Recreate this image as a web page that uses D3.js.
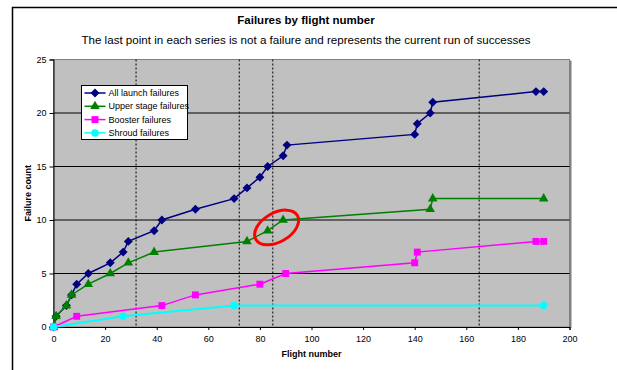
<!DOCTYPE html>
<html>
<head>
<meta charset="utf-8">
<script src="https://cdn.jsdelivr.net/npm/d3@7"></script>
<style>
  body { margin: 0; background: #fff; }
  svg { display: block; font-family: "Liberation Sans", Arial, sans-serif; }
</style>
</head>
<body>
<div id="chart"></div>
<script>
// Series data (flight number, cumulative failures)
const allX = [0, 1, 5, 7, 9, 13.5, 22, 27, 29, 39, 42, 55, 70, 75, 80, 83, 89, 90.5, 140, 141, 146, 147, 187, 190];
const allY = [0, 1, 2, 3, 4, 5, 6, 7, 8, 9, 10, 11, 12, 13, 14, 15, 16, 17, 18, 19, 20, 21, 22, 22];
const upperX = [0, 1, 5, 7, 13.5, 22, 29, 39, 75, 83, 89, 146, 147, 190];
const upperY = [0, 1, 2, 3, 4, 5, 6, 7, 8, 9, 10, 11, 12, 12];
const boosterX = [0, 9, 42, 55, 80, 90, 140, 141, 187, 190];
const boosterY = [0, 1, 2, 3, 4, 5, 6, 7, 8, 8];
const shroudX = [0, 27, 70, 190];
const shroudY = [0, 1, 2, 2];

const seriesNames = ['All launch failures', 'Upper stage failures', 'Booster failures', 'Shroud failures'];
const markerLines = [32, 72, 85, 165];
const xTicks = [0, 20, 40, 60, 80, 100, 120, 140, 160, 180, 200];
const yTicks = [0, 5, 10, 15, 20, 25];
const highlight = { x: 86.5, y: 9.3 };

const W = 617, H = 370;
const margin = { top: 59.5, right: 47.5, bottom: 43, left: 53.5 };
const width = W - margin.left - margin.right;
const height = H - margin.top - margin.bottom;

const svg = d3.select('#chart').append('svg')
    .attr('width', W)
    .attr('height', H);

// outer chart frame (cropped at right and bottom)
svg.append('path')
    .attr('d', `M12.5,${H} V7.5 H${W}`)
    .attr('fill', 'none')
    .attr('stroke', '#000')
    .attr('stroke-width', 1.5);

const xScale = d3.scaleLinear().domain([0, 200]).range([0, width]);
const yScale = d3.scaleLinear().domain([0, 25]).range([height, 0]);

const g = svg.append('g')
    .attr('transform', `translate(${margin.left}, ${margin.top})`);

// plot area
g.append('rect')
    .attr('x', 1).attr('y', 1)
    .attr('width', width + 1).attr('height', height)
    .attr('fill', '#808080');
g.append('rect')
    .attr('width', width).attr('height', height)
    .attr('fill', '#c0c0c0')
    .attr('stroke', '#808080');

// horizontal grid
g.selectAll('.grid')
    .data(yTicks.filter(d => d > 0 && d < 25))
    .enter().append('line')
    .attr('x1', 0).attr('x2', width)
    .attr('y1', d => yScale(d)).attr('y2', d => yScale(d))
    .attr('stroke', '#000')
    .attr('stroke-width', 1);

// dotted vertical markers
g.selectAll('.vline')
    .data(markerLines)
    .enter().append('line')
    .attr('x1', d => xScale(d)).attr('x2', d => xScale(d))
    .attr('y1', 0).attr('y2', height)
    .attr('stroke', '#000')
    .attr('stroke-dasharray', '2,2');

// axes
const xAxis = g.append('g')
    .attr('transform', `translate(0, ${height})`)
    .call(d3.axisBottom(xScale).tickValues(xTicks).tickSize(3).tickPadding(6));
const yAxis = g.append('g')
    .call(d3.axisLeft(yScale).tickValues(yTicks).tickSize(4).tickPadding(3));
[xAxis, yAxis].forEach(a => {
    a.select('.domain').attr('stroke', '#000');
    a.selectAll('text').attr('font-size', 9).attr('fill', '#000')
        .attr('font-family', '"Liberation Sans", Arial, sans-serif');
});

const series = [
    { name: seriesNames[0], xs: allX, ys: allY, color: '#000080', marker: 'diamond' },
    { name: seriesNames[1], xs: upperX, ys: upperY, color: '#008000', marker: 'triangle' },
    { name: seriesNames[2], xs: boosterX, ys: boosterY, color: '#ff00ff', marker: 'square' },
    { name: seriesNames[3], xs: shroudX, ys: shroudY, color: '#00ffff', marker: 'circle' }
];

const symbols = {
    diamond: d3.symbol().type(d3.symbolSquare).size(40),
    triangle: d3.symbol().type(d3.symbolTriangle).size(40),
    square: d3.symbol().type(d3.symbolSquare).size(48),
    circle: d3.symbol().type(d3.symbolCircle).size(44)
};
const rot = m => (m === 'diamond' ? ' rotate(45)' : '');

const line = d3.line()
    .x(d => xScale(d[0]))
    .y(d => yScale(d[1]));

series.forEach(s => {
    const pts = s.xs.map((x, i) => [x, s.ys[i]]);
    g.append('path')
        .datum(pts)
        .attr('fill', 'none')
        .attr('stroke', s.color)
        .attr('stroke-width', s.marker === 'circle' ? 2 : 1.5)
        .attr('d', line);
    g.selectAll(null)
        .data(pts)
        .enter().append('path')
        .attr('transform', d => `translate(${xScale(d[0])}, ${yScale(d[1])})${rot(s.marker)}`)
        .attr('d', symbols[s.marker])
        .attr('fill', s.color);
});

// red highlight ellipse
g.append('ellipse')
    .attr('transform', `translate(${xScale(highlight.x)}, ${yScale(highlight.y)}) rotate(-30)`)
    .attr('rx', 24)
    .attr('ry', 14.5)
    .attr('fill', 'none')
    .attr('stroke', '#ff0000')
    .attr('stroke-width', 3);

// legend
const legend = g.append('g')
    .attr('transform', `translate(${81.5 - margin.left}, ${85.5 - margin.top})`);
legend.append('rect')
    .attr('width', 106).attr('height', 54)
    .attr('fill', '#fff')
    .attr('stroke', '#000');
series.forEach((s, i) => {
    const yy = 7.5 + i * 13.3;
    legend.append('line')
        .attr('x1', 3).attr('x2', 24)
        .attr('y1', yy).attr('y2', yy)
        .attr('stroke', s.color)
        .attr('stroke-width', 1.5);
    legend.append('path')
        .attr('transform', `translate(13.5, ${yy})${rot(s.marker)}`)
        .attr('d', symbols[s.marker])
        .attr('fill', s.color);
    legend.append('text')
        .attr('x', 27).attr('y', yy + 3)
        .attr('font-size', 9)
        .text(s.name);
});

// titles
svg.append('text')
    .attr('x', 306).attr('y', 24)
    .attr('text-anchor', 'middle')
    .attr('font-size', 11.5)
    .attr('font-weight', 'bold')
    .text('Failures by flight number');
svg.append('text')
    .attr('x', 306).attr('y', 44)
    .attr('text-anchor', 'middle')
    .attr('font-size', 11.6)
    .text('The last point in each series is not a failure and represents the current run of successes');

svg.append('text')
    .attr('x', margin.left + width / 2).attr('y', 357)
    .attr('text-anchor', 'middle')
    .attr('font-size', 9)
    .attr('font-weight', 'bold')
    .text('Flight number');

svg.append('text')
    .attr('transform', `translate(31, ${margin.top + height / 2}) rotate(-90)`)
    .attr('text-anchor', 'middle')
    .attr('font-size', 9)
    .attr('font-weight', 'bold')
    .text('Failure count');
</script>
</body>
</html>
